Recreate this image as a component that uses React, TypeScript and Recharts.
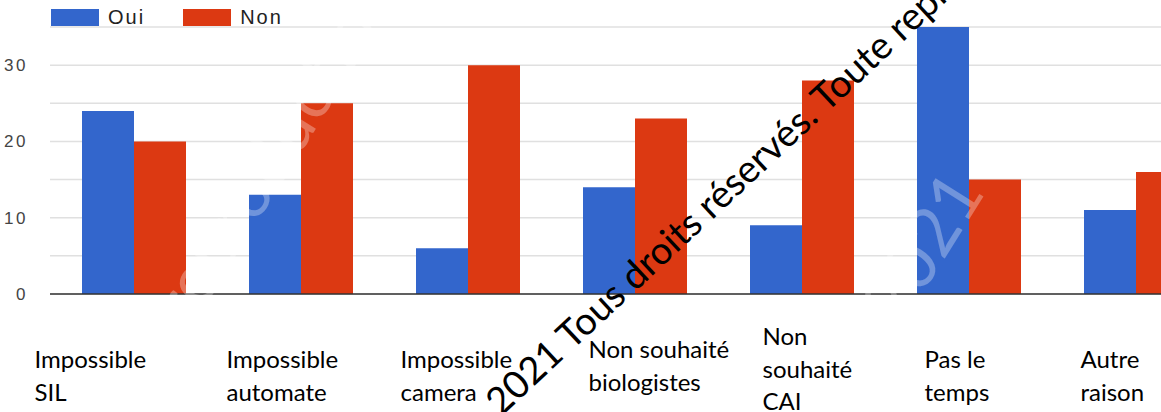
import React from "react"
import { BarChart, Bar, XAxis, YAxis, CartesianGrid, Legend } from "recharts"

const categories = [
  "Impossible SIL",
  "Impossible automate",
  "Impossible camera",
  "Non souhaité biologistes",
  "Non souhaité CAI",
  "Pas le temps",
  "Autre raison",
]
const labelLines = [
  ["Impossible", "SIL"],
  ["Impossible", "automate"],
  ["Impossible", "camera"],
  ["Non souhaité", "biologistes"],
  ["Non", "souhaité", "CAI"],
  ["Pas le", "temps"],
  ["Autre", "raison"],
]
const oui = [24, 13, 6, 14, 9, 35, 11]
const non = [20, 25, 30, 23, 28, 15, 16]
const yTicks = [0, 5, 10, 15, 20, 25, 30, 35]

// label placement under each group (offset from the band centre, first baseline)
const labelLayout = [
  { dx: -99, dy: 74 },
  { dx: -74, dy: 74 },
  { dx: -67, dy: 74 },
  { dx: -46, dy: 64 },
  { dx: -39, dy: 51 },
  { dx: -44, dy: 74 },
  { dx: -55, dy: 74 },
]

const BLUE = "#3366cc"
const RED = "#dc3912"

const data = categories.map((name, i) => ({ name, Oui: oui[i], Non: non[i] }))

function CategoryTick(props: any) {
  const { x, y, index } = props
  const lines = labelLines[index] || []
  const pos = labelLayout[index] || { dx: 0, dy: 70 }
  return (
    <text x={x + pos.dx} y={y + pos.dy} fill="#000" fontSize={24} fontFamily="Lato, 'Open Sans', sans-serif">
      {lines.map((l, k) => (
        <tspan key={k} x={x + pos.dx} dy={k === 0 ? 0 : 32.5}>
          {l}
        </tspan>
      ))}
    </text>
  )
}

function LegendBox() {
  const items = [
    { label: "Oui", color: BLUE },
    { label: "Non", color: RED },
  ]
  return (
    <div style={{ display: "flex", height: 19, alignItems: "center", fontFamily: "'Liberation Sans', Arial, sans-serif", fontSize: 20, color: "#222" }}>
      {items.map((it) => (
        <div key={it.label} style={{ display: "flex", alignItems: "center", marginRight: 38 }}>
          <div style={{ width: 48, height: 17, background: it.color, marginRight: 9 }} />
          <span style={{ letterSpacing: 2 }}>{it.label}</span>
        </div>
      ))}
    </div>
  )
}

export default function App() {
  return (
    <div style={{ position: "absolute", left: 0, top: 0, width: 1161, height: 412, overflow: "hidden", background: "#fff" }}>
      <BarChart
        width={1219}
        height={412}
        data={data}
        margin={{ top: 8, right: 0, bottom: 0, left: 0 }}
        barGap={0}
      >
        <Legend verticalAlign="top" align="left" content={() => <LegendBox />} wrapperStyle={{ top: 8, left: 51, width: "auto" }} />
        <CartesianGrid vertical={false} stroke="#e0e0e0" strokeWidth={1.5} />
        <YAxis
          width={50}
          domain={[0, 35]}
          ticks={yTicks}
          interval={0}
          axisLine={false}
          tickLine={false}
          tickSize={0}
          tickMargin={22}
          tickFormatter={(v: number) => (v % 10 === 0 && v < 35 ? String(v) : "")}
          tick={{ fill: "#444", fontSize: 17, fontFamily: "'Liberation Sans', Arial, sans-serif", letterSpacing: 2.5 }}
        />
        <XAxis
          dataKey="name"
          height={118}
          interval={0}
          tickLine={false}
          tickSize={0}
          tickMargin={0}
          axisLine={{ stroke: "#333", strokeWidth: 1.5 }}
          tick={<CategoryTick />}
        />
        <Bar dataKey="Oui" fill={BLUE} barSize={52} isAnimationActive={false} />
        <Bar dataKey="Non" fill={RED} barSize={52} isAnimationActive={false} />
      </BarChart>
      <svg width={1161} height={412} style={{ position: "absolute", left: 0, top: 0, pointerEvents: "none" }}>
        <text
          x={501}
          y={417}
          transform="rotate(-43 501 417)"
          fontSize={38}
          fontFamily="Lato, 'Open Sans', sans-serif"
          fill="#000"
        >
          2021 Tous droits réservés. Toute reproduction
        </text>
        <text
          x={190}
          y={330}
          transform="rotate(-58 190 330)"
          fontSize={70}
          fontFamily="Lato, sans-serif"
          fill="#ffffff"
          fillOpacity={0.3}
        >
          reproduction
        </text>
        <text
          x={900}
          y={330}
          transform="rotate(-58 900 330)"
          fontSize={70}
          fontFamily="Lato, sans-serif"
          fill="#ffffff"
          fillOpacity={0.3}
        >
          2021
        </text>
      </svg>
    </div>
  )
}
